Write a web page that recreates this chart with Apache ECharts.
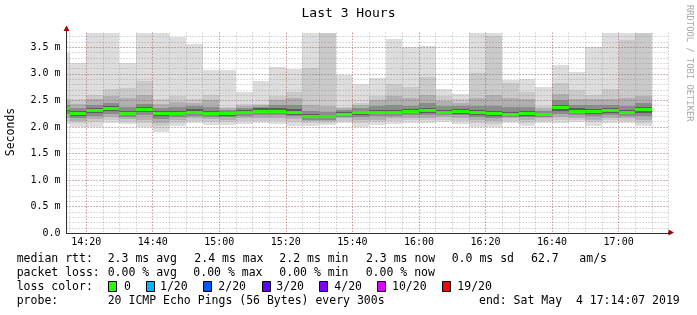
<!DOCTYPE html>
<html><head><meta charset="utf-8">
<script src="https://cdn.jsdelivr.net/npm/echarts@6/dist/echarts.min.js"></script>
<style>html,body{margin:0;padding:0;background:#fff}#c{width:697px;height:315px}</style>
</head><body><div id="c"></div>
<script>
// ---- data (ms), one value per 5-minute step, labelled by step end time ----
const endTimes = ['14:15','14:20','14:25','14:30','14:35','14:40','14:45','14:50','14:55','15:00','15:05','15:10','15:15','15:20','15:25','15:30','15:35','15:40','15:45','15:50','15:55','16:00','16:05','16:10','16:15','16:20','16:25','16:30','16:35','16:40','16:45','16:50','16:55','17:00','17:05','17:10'];
const pMin   = [2.05,2.00,2.00,2.07,2.05,2.00,1.90,2.02,2.08,2.04,2.04,2.06,2.07,2.06,2.025,2.025,2.04,2.07,2.00,2.03,2.05,2.07,2.07,2.10,2.06,2.00,2.00,2.07,2.025,2.07,2.07,2.09,2.025,2.08,2.07,2.02];
const p2     = [2.12,2.07,2.10,2.13,2.10,2.08,2.02,2.08,2.12,2.10,2.10,2.12,2.12,2.12,2.10,2.08,2.08,2.12,2.08,2.10,2.12,2.13,2.13,2.14,2.12,2.08,2.06,2.12,2.08,2.12,2.13,2.13,2.09,2.13,2.12,2.08];
const p4     = [2.17,2.12,2.15,2.18,2.15,2.14,2.08,2.13,2.16,2.15,2.14,2.16,2.16,2.17,2.15,2.11,2.11,2.16,2.13,2.14,2.16,2.17,2.17,2.18,2.16,2.13,2.11,2.16,2.13,2.16,2.18,2.17,2.14,2.17,2.16,2.13];
const p6     = [2.24,2.17,2.21,2.25,2.19,2.22,2.15,2.19,2.21,2.19,2.18,2.21,2.22,2.22,2.20,2.14,2.14,2.19,2.18,2.20,2.21,2.22,2.22,2.23,2.22,2.18,2.16,2.19,2.18,2.19,2.25,2.22,2.20,2.23,2.21,2.20];
const p8     = [2.30,2.21,2.26,2.30,2.22,2.28,2.20,2.22,2.24,2.22,2.21,2.24,2.26,2.26,2.23,2.16,2.16,2.21,2.23,2.24,2.24,2.26,2.27,2.25,2.25,2.23,2.21,2.21,2.21,2.21,2.31,2.26,2.25,2.27,2.24,2.27];
const median = [2.34,2.26,2.31,2.35,2.25,2.33,2.245,2.26,2.28,2.26,2.245,2.28,2.30,2.30,2.27,2.19,2.19,2.24,2.275,2.28,2.27,2.29,2.315,2.28,2.285,2.27,2.25,2.24,2.25,2.23,2.36,2.30,2.29,2.307,2.27,2.32];
const p13    = [2.38,2.30,2.36,2.40,2.30,2.37,2.30,2.31,2.33,2.30,2.28,2.32,2.35,2.36,2.33,2.24,2.23,2.28,2.31,2.32,2.32,2.33,2.36,2.32,2.33,2.32,2.30,2.29,2.30,2.27,2.42,2.35,2.34,2.35,2.32,2.38];
const p15    = [2.42,2.36,2.42,2.46,2.38,2.43,2.36,2.38,2.40,2.38,2.32,2.36,2.38,2.42,2.42,2.30,2.28,2.32,2.36,2.40,2.42,2.40,2.45,2.40,2.40,2.40,2.40,2.37,2.38,2.31,2.50,2.42,2.42,2.42,2.40,2.45];
const p17    = [2.48,2.44,2.52,2.58,2.55,2.60,2.44,2.47,2.46,2.50,2.35,2.40,2.41,2.50,2.55,2.42,2.40,2.35,2.41,2.50,2.58,2.55,2.60,2.48,2.46,2.55,2.60,2.55,2.52,2.36,2.62,2.52,2.52,2.52,2.55,2.58];
const p19    = [2.55,2.52,2.61,2.72,2.74,2.87,2.52,2.58,2.53,2.61,2.38,2.43,2.43,2.59,2.66,3.11,3.80,2.38,2.45,2.58,2.80,2.75,2.95,2.58,2.52,3.02,3.72,2.82,2.66,2.40,2.82,2.70,2.60,2.71,3.64,3.80];
const pMax   = [3.40,3.21,3.80,3.80,3.21,3.80,3.80,3.70,3.56,3.07,3.07,2.66,2.87,3.12,3.10,3.80,3.80,2.98,2.81,2.92,3.655,3.51,3.53,2.72,2.62,3.80,3.80,2.89,2.90,2.76,3.17,3.03,3.50,3.80,3.80,3.80];

const titleText = 'Last 3 Hours';
const yAxisName = 'Seconds';
const sideText = 'RRDTOOL / TOBI OETIKER';
const rowLabels = ['median rtt:', 'packet loss:', 'loss color:', 'probe:'];
const rttStats = ['2.3 ms avg', '2.4 ms max', '2.2 ms min', '2.3 ms now', '0.0 ms sd', '62.7', 'am/s'];
const lossStats = ['0.00 % avg', '0.00 % max', '0.00 % min', '0.00 % now'];
const lossLabels = ['0', '1/20', '2/20', '3/20', '4/20', '10/20', '19/20'];
const lossColors = ['#26ff00', '#00b8ff', '#0059ff', '#5e00ff', '#7e00ff', '#dd00ff', '#ff0000'];
const probeText = '20 ICMP Echo Pings (56 Bytes) every 300s';
const endText = 'end: Sat May  4 17:14:07 2019';

// ---- helpers ----
const toMin = s => { const [h, m] = s.split(':').map(Number); return h * 60 + m; };
const fmtMin = v => { const h = Math.floor(v / 60), m = Math.round(v - h * 60); return h + ':' + String(m).padStart(2, '0'); };
const X_MIN = toMin('14:14') + 7 / 60;
const X_MAX = toMin('17:15') + 0.2;
const Y_MAX = 3.775;
const STEP = 5;

const MONO = 'DejaVu Sans Mono';
const GRID = { left: 66.6, top: 32.7, width: 602.6, height: 200.5 };

function band(lo, hi, color) {
  return {
    type: 'custom', xAxisIndex: 0, yAxisIndex: 0, z: 2, silent: true,
    data: endTimes.map((t, i) => [toMin(t) - STEP, toMin(t), lo[i], hi[i]]),
    encode: { x: [0, 1], y: [2, 3] },
    renderItem: (params, api) => {
      const a = api.coord([api.value(0), api.value(3)]);
      const b = api.coord([api.value(1), api.value(2)]);
      const cs = params.coordSys;
      const x0 = Math.round(Math.max(a[0], cs.x)), x1 = Math.round(Math.min(b[0], cs.x + cs.width));
      const y0 = Math.round(Math.max(a[1], cs.y)), y1 = Math.round(Math.min(b[1], cs.y + cs.height));
      if (x1 <= x0 || y1 <= y0) return null;
      return { type: 'rect', shape: { x: x0, y: y0, width: x1 - x0, height: y1 - y0 }, style: { fill: color } };
    }
  };
}
function medianLine(vals, color) {
  return {
    type: 'custom', xAxisIndex: 0, yAxisIndex: 0, z: 3, silent: true,
    data: endTimes.map((t, i) => [toMin(t) - STEP, toMin(t), vals[i]]),
    encode: { x: [0, 1], y: 2 },
    renderItem: (params, api) => {
      const a = api.coord([api.value(0), api.value(2)]);
      const b = api.coord([api.value(1), api.value(2)]);
      const cs = params.coordSys;
      const x0 = Math.round(Math.max(a[0], cs.x)), x1 = Math.round(Math.min(b[0], cs.x + cs.width));
      if (x1 <= x0) return null;
      const yc = Math.round(a[1] - 1.5);
      return { type: 'rect', shape: { x: x0, y: yc, width: x1 - x0, height: 3 }, style: { fill: color } };
    }
  };
}

const majorLine = { color: 'rgba(200,60,60,0.5)', type: [1, 2], width: 1 };
const minorLine = { color: 'rgba(120,120,120,0.5)', type: [1, 2], width: 1 };
const axisColor = '#303030';
const arrowColor = '#a00000';

const isMult = (v, s) => Math.abs(v / s - Math.round(v / s)) < 1e-6;

const graphics = [];
graphics.push({ type: 'text', left: 'center', top: 7.5, style: { text: titleText, font: '13px "' + MONO + '"', fill: '#000' } });
graphics.push({ type: 'text', x: 10.7, y: 132, rotation: Math.PI / 2, style: { text: yAxisName, font: '11.5px "' + MONO + '"', fill: '#000', align: 'center', verticalAlign: 'middle' } });
graphics.push({ type: 'text', x: 689, y: 5, rotation: -Math.PI / 2, style: { text: sideText, font: '8.8px "' + MONO + '"', fill: '#a8a8a8', align: 'left', verticalAlign: 'middle' } });
// axis arrows
graphics.push({ type: 'line', shape: { x1: 66.5, y1: 33, x2: 66.5, y2: 29 }, style: { stroke: axisColor, lineWidth: 1 } });
graphics.push({ type: 'polygon', shape: { points: [[63.5, 31], [69.5, 31], [66.5, 25.5]] }, style: { fill: arrowColor } });
graphics.push({ type: 'line', shape: { x1: 668, y1: 232.5, x2: 669.5, y2: 232.5 }, style: { stroke: axisColor, lineWidth: 1 } });
graphics.push({ type: 'polygon', shape: { points: [[668.5, 229.5], [668.5, 235.5], [674, 232.5]] }, style: { fill: arrowColor } });

const txt = (s, x, y) => ({ type: 'text', x: x, y: y, style: { text: s, font: '11.5px "' + MONO + '"', fill: '#000', align: 'left', verticalAlign: 'middle' } });
const rowY = [259.3, 273.3, 286.7, 301.3];
rowLabels.forEach((s, i) => graphics.push(txt(s, 16.7, rowY[i])));
const rttX = [107.7, 194.3, 279.3, 366, 451.7, 531, 579.3];
rttStats.forEach((s, i) => graphics.push(txt(s, rttX[i], rowY[0])));
const lossX = [107.7, 193.3, 279.3, 365.7];
lossStats.forEach((s, i) => graphics.push(txt(s, lossX[i], rowY[1])));
const boxX = [108.3, 145.7, 203.3, 261.7, 319.3, 377, 442.3];
const boxTextX = [124, 160, 218.3, 276.3, 334.3, 392, 457.3];
lossLabels.forEach((s, i) => {
  graphics.push({ type: 'rect', shape: { x: Math.round(boxX[i]) + 0.5, y: 281.5, width: 8, height: 10 }, style: { fill: lossColors[i], stroke: '#000', lineWidth: 1 } });
  graphics.push(txt(s, boxTextX[i], rowY[2]));
});
graphics.push(txt(probeText, 107.7, rowY[3]));
graphics.push(txt(endText, 479, rowY[3]));

const chart = echarts.init(document.getElementById('c'), null, { renderer: 'canvas' });
chart.setOption({
  animation: false,
  backgroundColor: '#ffffff',
  grid: GRID,
  xAxis: [
    {
      type: 'value', min: X_MIN, max: X_MAX, minInterval: 20, maxInterval: 20, z: 6,
      axisLine: { show: true, onZero: false, lineStyle: { color: axisColor, width: 1 } },
      axisTick: { show: false },
      axisLabel: { showMinLabel: false, showMaxLabel: false, margin: 4, color: '#000', fontFamily: MONO, fontSize: 10,
        formatter: v => isMult(v, 20) ? fmtMin(v) : '' },
      splitLine: { show: true, showMinLine: false, showMaxLine: false, lineStyle: majorLine }
    },
    {
      type: 'value', min: X_MIN, max: X_MAX, minInterval: 5, maxInterval: 5, z: 5, position: 'bottom',
      axisLine: { show: false }, axisTick: { show: false }, axisLabel: { show: false },
      splitLine: { show: true, showMinLine: false, showMaxLine: false, lineStyle: minorLine }
    }
  ],
  yAxis: [
    {
      type: 'value', min: 0, max: Y_MAX, interval: 0.5, z: 6,
      axisLine: { show: true, onZero: false, lineStyle: { color: axisColor, width: 1 } },
      axisTick: { show: false },
      axisLabel: { showMaxLabel: false, margin: 6, color: '#000', fontFamily: MONO, fontSize: 10,
        formatter: v => !isMult(v, 0.5) ? '' : (v === 0 ? '0.0' : v.toFixed(1) + ' m') },
      splitLine: { show: true, showMinLine: false, showMaxLine: false, lineStyle: majorLine }
    },
    {
      type: 'value', min: 0, max: Y_MAX, interval: 0.1, z: 5,
      axisLine: { show: false }, axisTick: { show: false }, axisLabel: { show: false },
      splitLine: { show: true, showMinLine: false, showMaxLine: false, lineStyle: minorLine }
    }
  ],
  series: [
    band(pMin, pMax, '#dddddd'),
    band(p2, p19, '#cacaca'),
    band(p4, p17, '#b0b0b0'),
    band(p6, p15, '#8c8c8c'),
    band(p8, p13, '#5c5c5c'),
    medianLine(median, lossColors[0])
  ],
  graphic: graphics
});
</script>
</body></html>
